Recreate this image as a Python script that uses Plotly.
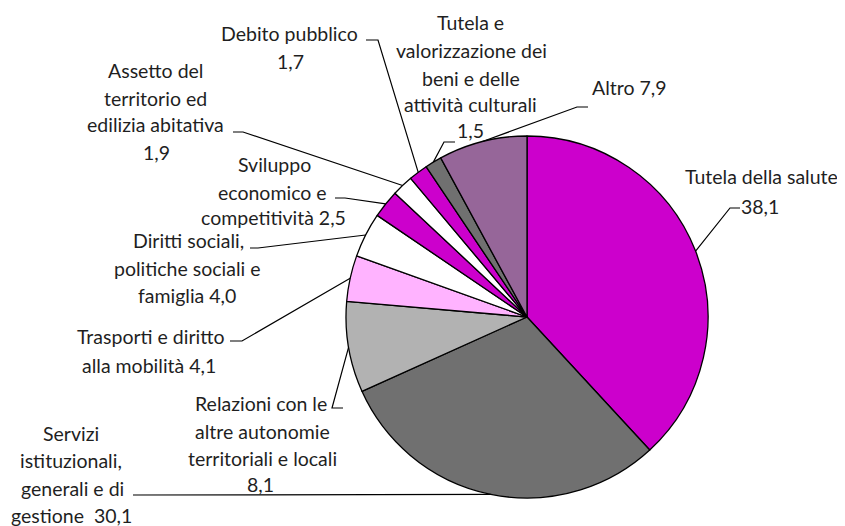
import math
import plotly.graph_objs as go

# spesa per missione, valori percentuali
labels = [
    "Tutela della salute",
    "Servizi istituzionali, generali e di gestione",
    "Relazioni con le altre autonomie territoriali e locali",
    "Trasporti e diritto alla mobilità",
    "Diritti sociali, politiche sociali e famiglia",
    "Sviluppo economico e competitività",
    "Assetto del territorio ed edilizia abitativa",
    "Debito pubblico",
    "Tutela e valorizzazione dei beni e delle attività culturali",
    "Altro",
]
values = [38.1, 30.1, 8.1, 4.1, 4.0, 2.5, 1.9, 1.7, 1.5, 7.9]
colors = ["#CC00CC", "#707070", "#B2B2B2", "#FFB3FF", "#FFFFFF",
          "#CC00CC", "#FFFFFF", "#CC00CC", "#707070", "#966699"]

# how each label is broken into lines ({v} = value with decimal comma)
label_lines = [
    ["Tutela della salute", "{v}"],
    ["Servizi", "istituzionali,", "generali e di", "gestione  {v}"],
    ["Relazioni con le", "altre autonomie", "territoriali e locali", "{v}"],
    ["Trasporti e diritto", "alla mobilità {v}"],
    ["Diritti sociali,", "politiche sociali e", "famiglia {v}"],
    ["Sviluppo", "economico e", "competitività {v}"],
    ["Assetto del", "territorio ed", "edilizia abitativa", "{v}"],
    ["Debito pubblico", "{v}"],
    ["Tutela e", "valorizzazione dei", "beni e delle", "attività culturali", "{v}"],
    ["Altro {v}"],
]

W, H = 845, 526
OFF = 8  # page body margin
CX, CY, R = 527, 317, 181

# label placement (pixels): centre x of each text line, y of each line
label_pos = [
    ([761, 760], [176, 206]),
    ([71, 71, 72, 71], [433, 460, 488, 515]),
    ([261, 262, 262, 260], [403, 431, 458, 484]),
    ([151, 149], [336, 365]),
    ([188, 187, 187], [240, 268, 295]),
    ([274, 272, 273], [165, 192, 218]),
    ([155, 155, 155, 156], [71, 99, 125, 152]),
    ([289, 290], [33, 61]),
    ([470, 472, 471, 470, 470], [23, 51, 78, 104, 131]),
    ([629], [88]),
]
# leader lines: horizontal tick (x0, x1, y), then to the slice edge
leaders = [
    (740, 730, 208),
    (133, 133, 495),
    (343, 332, 408),
    (230, 242, 341),
    (250, 258, 248),
    (335, 345, 198),
    (233, 243, 132),
    (366, 378, 40),
    (455, 444, 142),
    (588, 577, 107),
]


def px(x):
    return (x - OFF) / W


def py(y):
    return 1 - (y - OFF) / H


fig = go.Figure()
fig.add_trace(go.Pie(
    labels=labels,
    values=values,
    sort=False,
    direction="clockwise",
    rotation=0,
    marker=dict(colors=colors, line=dict(color="black", width=1.3)),
    textinfo="none",
    hoverinfo="label+value",
    showlegend=False,
    domain=dict(x=[px(CX - R), px(CX + R)], y=[py(CY + R), py(CY - R)]),
))

total = sum(values)
cum = 0
shapes = []
annotations = []
for i, v in enumerate(values):
    mid = (cum + v / 2) / total * 2 * math.pi
    cum += v
    ex = CX + R * math.sin(mid)
    ey = CY - R * math.cos(mid)
    x0, x1, ly = leaders[i]
    path = f"M {px(x0)},{py(ly)} L {px(x1)},{py(ly)} L {px(ex)},{py(ey)}"
    shapes.append(dict(type="path", path=path, xref="paper", yref="paper",
                       line=dict(color="black", width=1.2), layer="above"))
    vtxt = f"{v:.1f}".replace(".", ",")
    xs, ys = label_pos[i]
    for line, lx, lyy in zip(label_lines[i], xs, ys):
        annotations.append(dict(
            text=line.format(v=vtxt), x=px(lx), y=py(lyy),
            xref="paper", yref="paper", xanchor="center", yanchor="middle",
            showarrow=False, font=dict(size=19.5, color="#1f1f1f"),
        ))

fig.update_layout(
    width=W,
    height=H,
    margin=dict(l=0, r=0, t=0, b=0),
    paper_bgcolor="white",
    plot_bgcolor="white",
    font=dict(family="Lato, 'Open Sans', sans-serif"),
    shapes=shapes,
    annotations=annotations,
)

fig.write_html("out.html")
